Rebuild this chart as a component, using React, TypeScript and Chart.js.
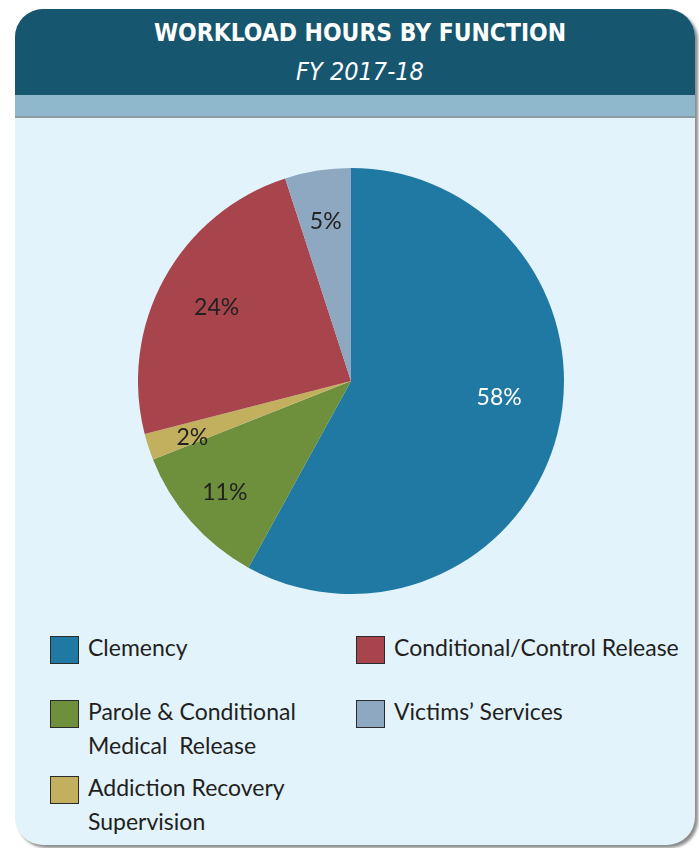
import React, { useEffect, useRef } from "react";
import { Chart, registerables } from "chart.js";

Chart.register(...registerables);

const TITLE = "WORKLOAD HOURS BY FUNCTION";
const SUBTITLE = "FY 2017-18";

// data in clockwise order from 12 o'clock
const categories = [
  "Clemency",
  "Parole & Conditional\nMedical  Release",
  "Addiction Recovery\nSupervision",
  "Conditional/Control Release",
  "Victims\u2019 Services",
];
const shares = [58, 11, 2, 24, 5];
const sliceColors = ["#2079a2", "#6e8f3b", "#c3b05f", "#a8444c", "#8fa8c2"];
const labelColors = ["#ffffff", "#222222", "#222222", "#222222", "#222222"];

// label placement styles (fraction of radius, angle tweak in degrees)
const labelRadius = [0.7, 0.79, 0.79, 0.72, 0.76];
const labelAngleShift = [-8, 0, -1.5, 0, 0];

// legend layout (column-major, 3 rows)
const legendRowTops = [636, 700, 776];
const legendColLefts = [50, 356];

const sliceLabelPlugin = {
  id: "sliceLabels",
  afterDatasetsDraw(chart: any) {
    const ctx = chart.ctx;
    const meta = chart.getDatasetMeta(0);
    ctx.save();
    ctx.font = "23px Lato, 'Open Sans', sans-serif";
    ctx.textAlign = "center";
    ctx.textBaseline = "middle";
    meta.data.forEach((arc: any, i: number) => {
      const p = arc.getProps(["x", "y", "startAngle", "endAngle", "outerRadius"], true);
      const mid = (p.startAngle + p.endAngle) / 2 + (labelAngleShift[i] * Math.PI) / 180;
      const r = p.outerRadius * labelRadius[i];
      ctx.fillStyle = labelColors[i];
      ctx.fillText(shares[i] + "%", p.x + Math.cos(mid) * r, p.y + Math.sin(mid) * r);
    });
    ctx.restore();
  },
};

export default function App() {
  const ref = useRef<HTMLCanvasElement>(null);

  useEffect(() => {
    if (!ref.current) return;
    const chart = new Chart(ref.current, {
      type: "pie",
      data: {
        labels: categories,
        datasets: [
          {
            data: shares,
            backgroundColor: sliceColors,
            borderWidth: 0,
          },
        ],
      },
      options: {
        animation: false,
        responsive: true,
        maintainAspectRatio: false,
        layout: { padding: 0 },
        plugins: {
          legend: { display: false },
          tooltip: { enabled: false },
          title: { display: false },
        },
      },
      plugins: [sliceLabelPlugin],
    });
    return () => chart.destroy();
  }, []);

  return (
    <div style={{ position: "relative", width: 699, height: 848, background: "#ffffff", overflow: "hidden" }}>
      <style>{`body{margin:0;}`}</style>
      <div
        style={{
          position: "absolute",
          left: 15,
          top: 9,
          width: 680,
          height: 836,
          borderRadius: 28,
          background: "#e2f3fc",
          boxShadow: "3px 3px 3px rgba(0,0,0,0.45)",
          overflow: "hidden",
        }}
      >
        <div style={{ height: 86, background: "#17566f", color: "#ffffff", textAlign: "center", paddingLeft: 10 }}>
          <div
            style={{
              fontFamily: "'DejaVu Sans Condensed', 'DejaVu Sans', sans-serif",
              fontStretch: "condensed",
              fontWeight: "bold",
              fontSize: 24.4,
              lineHeight: "30px",
              paddingTop: 9,
            }}
          >
            {TITLE}
          </div>
          <div
            style={{
              fontFamily: "'DejaVu Sans Condensed', 'DejaVu Sans', sans-serif",
              fontStretch: "condensed",
              fontStyle: "italic",
              fontSize: 25,
              lineHeight: "30px",
              paddingTop: 9,
            }}
          >
            {SUBTITLE}
          </div>
        </div>
        <div style={{ height: 21, background: "#8fb8cc" }} />
        <div style={{ height: 2, background: "#8d9aa2" }} />
      </div>
      <div style={{ position: "absolute", left: 138, top: 168, width: 426, height: 426 }}>
        <canvas ref={ref} />
      </div>
      {categories.map((c, i) => {
        const col = Math.floor(i / 3);
        const row = i % 3;
        return (
          <div
            key={c}
            style={{
              position: "absolute",
              left: legendColLefts[col],
              top: legendRowTops[row],
              display: "flex",
              alignItems: "flex-start",
            }}
          >
            <div
              style={{
                width: 27,
                height: 26,
                background: sliceColors[i],
                border: "1px solid #2a2a2a",
                flex: "none",
              }}
            />
            <div
              style={{
                marginLeft: 9,
                marginTop: -6,
                fontFamily: "Lato, 'Open Sans', sans-serif",
                fontSize: 23,
                lineHeight: "34px",
                color: "#231f20",
                whiteSpace: "pre",
              }}
            >
              {c}
            </div>
          </div>
        );
      })}
    </div>
  );
}
